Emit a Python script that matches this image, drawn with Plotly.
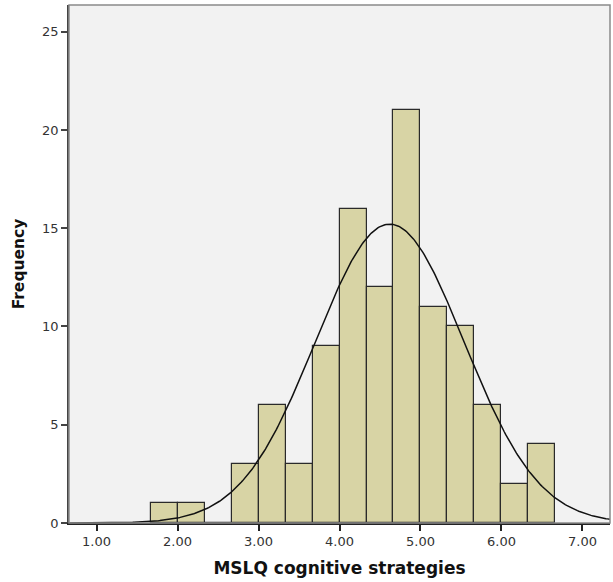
import numpy as np
import plotly.graph_objects as go

# Histogram data (bin edges from 1.6667 to 6.6667, width 1/3)
bin_starts = [5/3, 6/3, 7/3, 8/3, 9/3, 10/3, 11/3, 12/3, 13/3, 14/3, 15/3, 16/3, 17/3, 18/3, 19/3]
counts = [1, 1, 0, 3, 6, 3, 9, 16, 12, 21, 11, 10, 6, 2, 4]
bin_width = 1/3

# Normal curve parameters
mean_val = 4.62
sd_val = 0.918
n_total = sum(counts)

x_ticks = [1, 2, 3, 4, 5, 6, 7]
x_tick_labels = ["1.00", "2.00", "3.00", "4.00", "5.00", "6.00", "7.00"]
y_ticks = [0, 5, 10, 15, 20, 25]

centers = [s + bin_width / 2 for s in bin_starts]

xs = np.linspace(0.66, 7.34, 400)
ys = n_total * bin_width / (sd_val * np.sqrt(2 * np.pi)) * np.exp(-0.5 * ((xs - mean_val) / sd_val) ** 2)

fig = go.Figure()
fig.add_trace(go.Bar(
    x=centers, y=counts, width=bin_width,
    marker=dict(color="#D8D4A5", line=dict(color="#2a2a2a", width=1.2)),
    hoverinfo="skip",
))
fig.add_trace(go.Scatter(
    x=xs, y=ys, mode="lines",
    line=dict(color="#111111", width=1.5),
    hoverinfo="skip",
))

font_family = "DejaVu Sans, Verdana, sans-serif"

fig.update_layout(
    width=613, height=582,
    margin=dict(l=69, r=3, t=5, b=59),
    paper_bgcolor="white",
    plot_bgcolor="#F2F2F2",
    showlegend=False,
    bargap=0,
    font=dict(family=font_family, size=13, color="#333333"),
    xaxis=dict(
        range=[0.66, 7.34],
        tickvals=x_ticks, ticktext=x_tick_labels,
        showgrid=False, zeroline=False,
        showline=True, linecolor="#222222", linewidth=1.5,
        ticks="outside", ticklen=6, tickcolor="#222222", tickwidth=1.5,
        tickfont=dict(size=13, color="#333333"),
        title=dict(text="<b>MSLQ cognitive strategies</b>", font=dict(size=17, color="#111111"), standoff=14),
    ),
    yaxis=dict(
        range=[0, 26.36],
        tickvals=y_ticks,
        showgrid=False, zeroline=False,
        showline=True, linecolor="#444444", linewidth=1.5,
        ticks="outside", ticklen=6, tickcolor="#444444", tickwidth=1.5,
        tickfont=dict(size=13, color="#333333"),
        title=dict(text="<b>Frequency</b>", font=dict(size=15.5, color="#111111"), standoff=14),
    ),
    shapes=[dict(
        type="rect", xref="paper", yref="paper", x0=0, y0=0, x1=1, y1=1,
        line=dict(color="#8A8A8A", width=1.5), fillcolor="rgba(0,0,0,0)", layer="above",
    )],
)

fig.write_html("out.html", config={"displayModeBar": False},
               post_script="document.body.style.margin='0';")
